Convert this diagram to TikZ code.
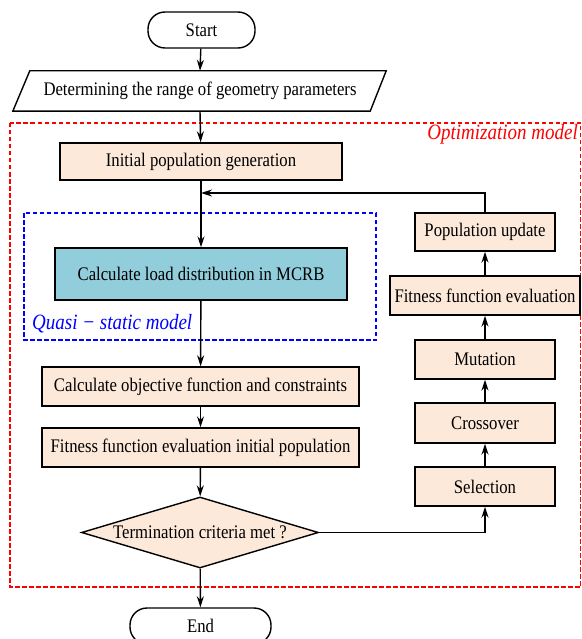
\documentclass[tikz,border=0pt]{standalone}
\usepackage{fontspec}
\usepackage{graphicx}
\setmainfont{Liberation Serif}
\usetikzlibrary{arrows.meta,shapes.geometric,calc}
\definecolor{peach}{HTML}{FDE9D9}
\definecolor{lblue}{HTML}{92CDDC}
\newcommand{\stt}[1]{\scalebox{1}[1.15]{#1}}
\begin{document}
\begin{tikzpicture}[x=1pt,y=-1pt,
  every node/.style={font=\fontsize{16.7}{19}\selectfont, inner sep=0pt},
  proc/.style={draw, line width=1.4pt, fill=peach, minimum height=38pt},
  term/.style={draw, line width=1.4pt, rounded corners=17pt, minimum height=36pt},
  arr/.style={line width=1.4pt, -{Stealth[length=11pt,width=7pt]}},
  reddash/.style={draw=red, line width=1.1pt, dash pattern=on 4.5pt off 2.5pt},
  bluedash/.style={draw=blue, line width=1.1pt, dash pattern=on 4.5pt off 2.5pt}]
\useasboundingbox (0,0) rectangle (581,639);
% frames
\draw[reddash] (10,123) rectangle (580.5,587);
\node[anchor=east, text=red, font=\fontsize{19}{22}\selectfont\itshape] (optlab) at (578,134.5) {\stt{Optimization model}};
\draw[bluedash] (24,213) rectangle (376,340);
\node[anchor=west, text=blue, font=\fontsize{19}{22}\selectfont\itshape] (qlab) at (32,324) {\stt{Quasi − static model}};
% main column
\node[term, minimum width=107pt] (start) at (201.5,30) {\stt{Start}};
\node[minimum width=356pt, minimum height=40pt] (param) at (200,91) {\stt{Determining the range of geometry parameters}};
\draw[line width=1.4pt] ([xshift=-9pt]param.south west) -- ([xshift=8pt]param.north west) -- ([xshift=8pt]param.north east) -- ([xshift=-8pt]param.south east) -- cycle;
\node[proc, minimum width=282pt, minimum height=37pt] (init) at (201,161.5) {\stt{Initial population generation}};
\node[draw, line width=1.4pt, fill=lblue, minimum width=292pt, minimum height=52pt] (load) at (201,274) {\stt{Calculate load distribution in MCRB}};
\node[proc, minimum width=317pt, minimum height=39pt] (obj) at (200.5,386.5) {\stt{Calculate objective function and constraints}};
\node[proc, minimum width=317pt, minimum height=39pt] (fit0) at (200.5,447.5) {\stt{Fitness function evaluation initial population}};
\node[diamond, draw, line width=1.4pt, fill=peach, minimum width=237pt, minimum height=71pt, aspect=3.3] (dia) at (200,532.5) {\stt{Termination criteria met ?}};
\node[term, minimum width=141pt] (end) at (200.5,626) {\stt{End}};
% right column
\node[proc, minimum width=140pt, minimum height=39pt] (sel) at (485,486.5) {\stt{Selection}};
\node[proc, minimum width=140pt, minimum height=40pt] (cross) at (485,423) {\stt{Crossover}};
\node[proc, minimum width=140pt, minimum height=39pt] (mut) at (485,359.5) {\stt{Mutation}};
\node[proc, minimum width=190pt, minimum height=39pt] (fit) at (485,295.5) {\stt{Fitness function evaluation}};
\node[proc, minimum width=140pt, minimum height=38pt] (pop) at (485,232) {\stt{Population update}};
\coordinate (join) at (201,193);
% connectors
\draw[arr] (start) -- (param.north);
\draw[arr] (param.south) -- (init);
\draw[arr] (init) -- (load);
\draw[arr] (pop.north) |- (join);
\draw[arr] (load) -- (obj);
\draw[arr] (obj) -- (fit0);
\draw[arr] (fit0) -- (dia);
\draw[arr] (dia) -- (end);
\draw[arr] (dia.east) -| (sel.south);
\draw[arr] (sel) -- (cross);
\draw[arr] (cross) -- (mut);
\draw[arr] (mut) -- (fit);
\draw[arr] (fit) -- (pop);
\end{tikzpicture}
\end{document}
